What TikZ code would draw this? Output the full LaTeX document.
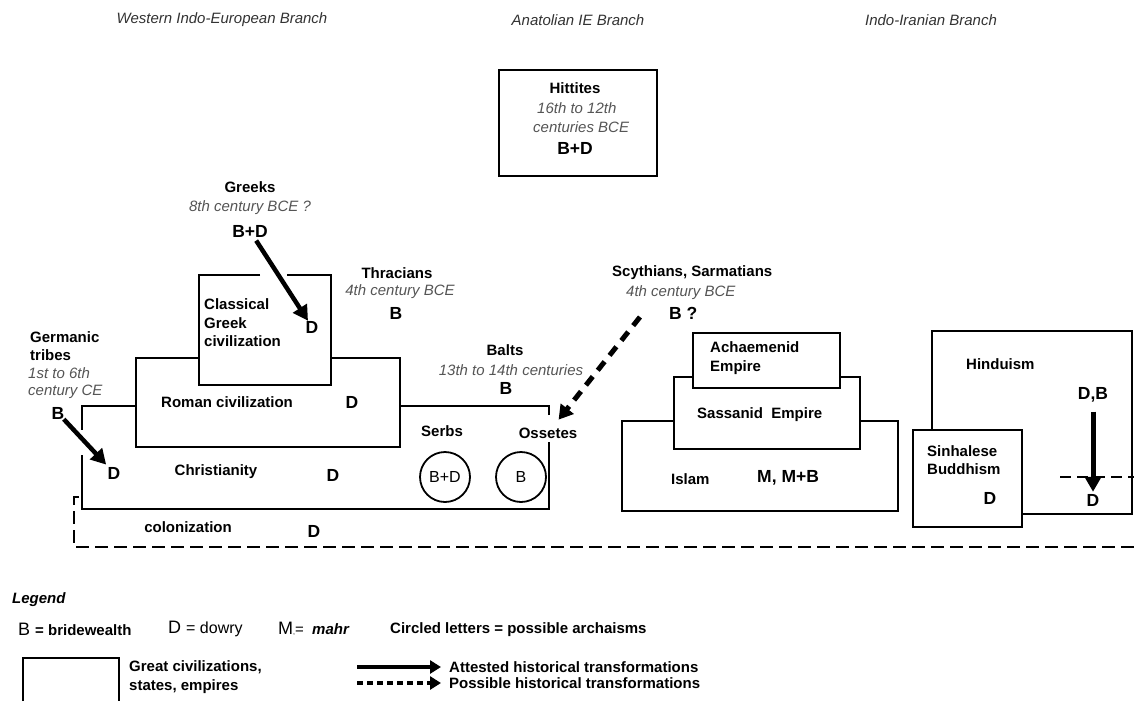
\documentclass[tikz,border=0pt]{standalone}
\usepackage{fontspec}
\setmainfont{Liberation Sans}
\usetikzlibrary{arrows.meta}
\definecolor{dategray}{HTML}{555555}
\definecolor{hdrgray}{HTML}{333333}
\tikzset{
  frame/.style={line width=2.6pt, line join=miter},
  lab/.style={inner sep=0pt, font=\fontsize{15}{18.5}\selectfont\bfseries},
  dat/.style={inner sep=0pt, text=dategray, font=\fontsize{15}{17.5}\selectfont\itshape},
  val/.style={inner sep=0pt, font=\fontsize{17.5}{20}\selectfont\bfseries},
  hdr/.style={inner sep=0pt, text=hdrgray, font=\fontsize{15}{17}\selectfont\itshape},
  arch/.style={circle, draw, line width=1.8pt, minimum size=50pt, inner sep=0pt, font=\fontsize{16}{18}\selectfont},
  attested/.style={line width=4.5pt, -{Triangle[length=15pt,width=16pt]}},
  possible/.style={line width=5pt, dash pattern=on 11pt off 8pt, -{Triangle[length=14pt,width=16pt]}},
  border/.style={line width=2.4pt, dash pattern=on 13pt off 6pt},
}
\begin{document}
\begin{tikzpicture}[x=1pt,y=-1pt]
\useasboundingbox (0,0) rectangle (1134,701);
\fill[white] (0,0) rectangle (1134,701);

% headers
\node[hdr] (hw) at (222,20) {Western Indo-European Branch};
\node[hdr] (ha) at (578,20) {Anatolian IE Branch};
\node[hdr] (hi) at (931,20) {Indo-Iranian Branch};

% Hittites
\draw[frame] (499,70) rectangle (657,176);
\node[lab] (hit) at (575,88) {Hittites};
\node[dat,anchor=west] (hitd1) at (537,108) {16th to 12th};
\node[dat,anchor=west] (hitd2) at (533,127) {centuries BCE};
\node[val] (hitv) at (575,148) {B+D};

% Greeks
\node[lab] (gr) at (250,187) {Greeks};
\node[dat] (grd) at (250,208) {8th century BCE ?};
\node[val] (grv) at (250,231) {B+D};

% Classical Greek box
\draw[frame] (260,275) -- (199,275) -- (199,385) -- (331,385) -- (331,275) -- (287,275);
\node[lab,anchor=west,align=left] (cg) at (204,323) {Classical\\Greek\\civilization};
\node[val] (cgd) at (312,327) {D};
\draw[attested, shorten <=4pt] (grv) -- (cgd);

% Roman box
\draw[frame] (199,358) -- (136,358) -- (136,447) -- (400,447) -- (400,358) -- (331,358);
\node[lab,anchor=west] (rom) at (161,402) {Roman civilization};
\node[val] (romd) at (352,402) {D};

% Christianity box
\draw[frame] (136,406) -- (82,406) -- (82,430);
\draw[frame] (82,455) -- (82,509) -- (549,509) -- (549,442);
\draw[frame] (549,415) -- (549,406) -- (400,406);

% Thracians
\node[lab] (th) at (397,273) {Thracians};
\node[dat] (thd) at (400,292) {4th century BCE};
\node[val] (thv) at (396,313) {B};

% Balts
\node[lab] (ba) at (505,350) {Balts};
\node[dat] (bad) at (511,370) {13th to 14th centuries};
\node[val] (bav) at (506,388) {B};

% Germanic tribes
\node[lab,anchor=west,align=left] (ger) at (30,346) {Germanic\\tribes};
\node[dat,anchor=west,align=left] (gerd) at (28,383) {1st to 6th\\century CE};
\node[val] (gerv) at (58,413) {B};
\node[val] (chd1) at (114,473) {D};
\draw[attested, shorten >=3pt] (gerv) -- (chd1);

% Christianity contents
\node[lab] (chr) at (216,472) {Christianity};
\node[val] (chd2) at (333,475) {D};
\node[lab] (serbs) at (442,431) {Serbs};
\node[lab] (oss) at (548,433) {Ossetes};
\node[arch] (c1) at (445,477) {B+D};
\node[arch] (c2) at (521,477) {B};

% colonization
\draw[border] (79,497) -- (74,497) -- (74,547) -- (1134,547);
\node[lab] (col) at (188,527) {colonization};
\node[val] (cold) at (314,531) {D};

% Scythians
\node[lab,anchor=west] (sc) at (612,273) {Scythians, Sarmatians};
\node[dat,anchor=west] (scd) at (626,293) {4th century BCE};
\node[val,anchor=west] (scv) at (669,313) {B ?};
\coordinate (scs) at (640,317);
\draw[possible, shorten >=10pt] (scs) -- (oss);

% Iranian boxes
\draw[frame] (674,421) -- (622,421) -- (622,511) -- (898,511) -- (898,421) -- (860,421);
\draw[frame] (693,377) -- (674,377) -- (674,449) -- (860,449) -- (860,377) -- (840,377);
\draw[frame] (693,333) rectangle (840,388);
\node[lab,anchor=west,align=left] (ach) at (710,358) {Achaemenid\\Empire};
\node[lab,anchor=west] (sas) at (697,415) {Sassanid~~Empire};
\node[lab,anchor=west] (isl) at (671,479) {Islam};
\node[val,anchor=west] (islv) at (757,478) {M, M+B};

% Hinduism / Sinhalese Buddhism
\draw[frame] (932,430) -- (932,331) -- (1132,331) -- (1132,514) -- (1022,514);
\draw[frame] (913,430) rectangle (1022,527);
\draw[line width=2.4pt, dash pattern=on 11pt off 6pt] (1060,477) -- (1134,477);
\node[lab,anchor=west] (hin) at (966,364) {Hinduism};
\node[val] (hdb) at (1093,395) {D,B};
\node[val] (hd) at (1093,500) {D};
\draw[attested, line width=5pt, shorten <=9pt, shorten >=2pt] (hdb) -- (hd);
\node[lab,anchor=west,align=left] (sin) at (927,460) {Sinhalese\\Buddhism};
\node[val] (sind) at (990,498) {D};

% Legend
\node[inner sep=0pt,anchor=west,font=\fontsize{15}{18}\selectfont\bfseries\itshape] (leg) at (12,600) {Legend};
\node[inner sep=0pt,anchor=west] (lb) at (18,629) {\fontsize{18}{20}\selectfont B \fontsize{15}{18}\selectfont\bfseries = bridewealth};
\node[inner sep=0pt,anchor=west] (ld) at (168,629) {\fontsize{18}{20}\selectfont D \fontsize{16}{18}\selectfont = dowry};
\node[inner sep=0pt,anchor=west] (lm) at (278,629) {\fontsize{18}{20}\selectfont M{\fontsize{7}{7}\selectfont,}\fontsize{15}{18}\selectfont= ~\bfseries\itshape mahr};
\node[lab,anchor=west] (lc) at (390,630) {Circled letters = possible archaisms};
\draw[frame] (23,701) -- (23,658) -- (119,658) -- (119,701);
\node[lab,anchor=west,align=left] (lgc) at (129,677) {Great civilizations,\\states, empires};
\node[lab,anchor=west] (att) at (449,667) {Attested historical transformations};
\node[lab,anchor=west] (pos) at (449,683) {Possible historical transformations};
\coordinate (la1) at (357,667);
\coordinate (la2) at (357,683);
\draw[line width=4.5pt, -{Triangle[length=11pt,width=13pt]}, shorten >=8pt] (la1) -- (att.west);
\draw[line width=4.5pt, dash pattern=on 6pt off 4pt, -{Triangle[length=11pt,width=13pt]}, shorten >=8pt] (la2) -- (pos.west);
\end{tikzpicture}
\end{document}
